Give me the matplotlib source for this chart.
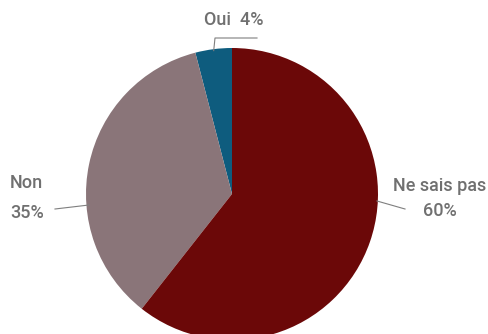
import matplotlib
matplotlib.use("Agg")
import matplotlib.pyplot as plt
import numpy as np

categories = ["Oui", "Non", "Ne sais pas"]
values = [4, 35, 60]
colors = ["#0E5C7E", "#8A7579", "#6B0808"]

fig = plt.figure(figsize=(4.88, 3.34), dpi=100)
ax = fig.add_axes([86/488, -6/334, 292/488, 292/334])
wedges, _ = ax.pie(values, colors=colors, startangle=90, counterclock=True,
                   radius=1.0, wedgeprops=dict(linewidth=0))
ax.set_xlim(-1, 1)
ax.set_ylim(-1, 1)
ax.set_aspect('equal')
ax.axis('off')

tc = "#707070"
fs = 13
font = "Roboto"
fw = "medium"

def px(x, y):
    inv = ax.transData.inverted()
    return inv.transform(fig.transFigure.transform((x/488, 1 - y/334)))

# Oui
w = wedges[0]
ang = np.deg2rad((w.theta1 + w.theta2) / 2)
p = (np.cos(ang)*0.99, np.sin(ang)*0.99)
k = px(215, 38); e = px(257, 38)
ax.plot([p[0], k[0], e[0]], [p[1], k[1], e[1]], color="#7F7F7F", lw=0.8, clip_on=False)
t = px(234, 20)
ax.text(t[0], t[1], f"{categories[0]}  {values[0]}%", color=tc, fontsize=fs,
        family=font, weight=fw, ha="center", va="center")

# Non
p = px(89, 205); k = px(55, 209)
ax.plot([p[0], k[0]], [p[1], k[1]], color="#7F7F7F", lw=0.8, clip_on=False)
t = px(10, 183)
ax.text(t[0], t[1], categories[1], color=tc, fontsize=fs, family=font, weight=fw, ha="left", va="center")
t = px(10, 213)
ax.text(t[0], t[1], f"{values[1]}%", color=tc, fontsize=fs, family=font, weight=fw, ha="left", va="center")

# Ne sais pas
p = px(377, 201); k = px(405, 209)
ax.plot([p[0], k[0]], [p[1], k[1]], color="#7F7F7F", lw=0.8, clip_on=False)
t = px(440, 186)
ax.text(t[0], t[1], categories[2], color=tc, fontsize=fs, family=font, weight=fw, ha="center", va="center")
t = px(440, 211)
ax.text(t[0], t[1], f"{values[2]}%", color=tc, fontsize=fs, family=font, weight=fw, ha="center", va="center")

fig.savefig("out.png", dpi=100)
